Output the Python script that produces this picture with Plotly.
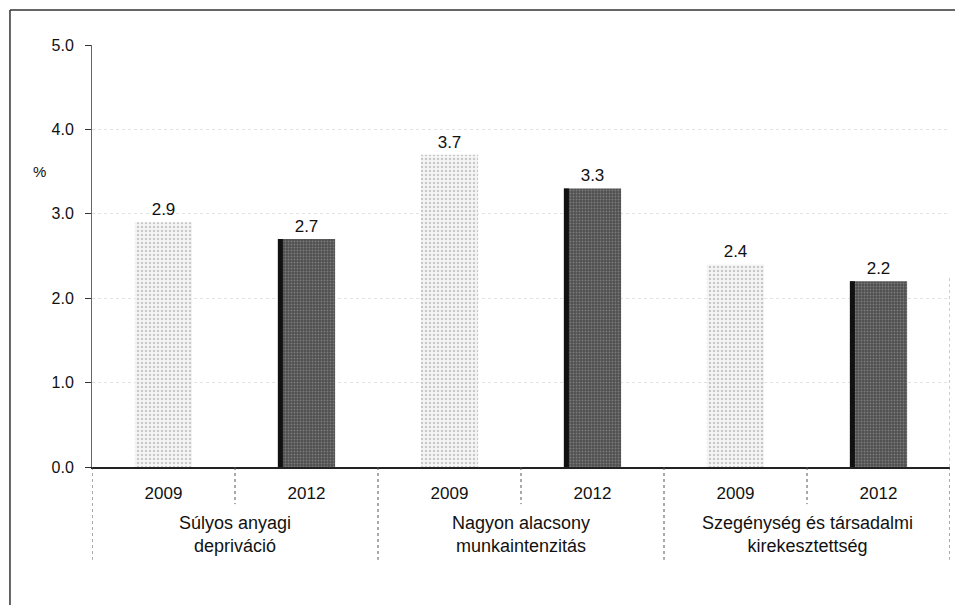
import plotly.graph_objects as go

groups = ["Súlyos anyagi<br>depriváció",
          "Nagyon alacsony<br>munkaintenzitás",
          "Szegénység és társadalmi<br>kirekesztettség"]
years = ["2009", "2012"]
values_2009 = [2.9, 3.7, 2.4]
values_2012 = [2.7, 3.3, 2.2]
y_ticks = [0, 1, 2, 3, 4, 5]

FONT = "Liberation Sans, Arial, sans-serif"
n_years = len(years)
x_2009 = [g * n_years + 0 for g in range(len(groups))]
x_2012 = [g * n_years + 1 for g in range(len(groups))]
tickvals = list(range(len(groups) * n_years))
ticktext = [years[i % n_years] for i in tickvals]
BAR_W = 0.4

fig = go.Figure()
fig.add_trace(go.Bar(
    x=x_2009, y=values_2009, width=BAR_W, name="2009",
    marker=dict(color="#f3f3f3", line=dict(width=0),
                pattern=dict(shape=".", bgcolor="#f5f5f5", fgcolor="#9a9a9a",
                             size=4, solidity=0.3)),
    texttemplate="%{y:.1f}", textposition="outside",
    textfont=dict(size=17, color="#111", family=FONT), cliponaxis=False,
))
fig.add_trace(go.Bar(
    x=x_2012, y=values_2012, width=BAR_W, name="2012",
    marker=dict(color="#5e5e5e", line=dict(width=0),
                pattern=dict(shape=".", bgcolor="#505050", fgcolor="#a8a8a8",
                             size=3, solidity=0.3)),
    texttemplate="%{y:.1f}", textposition="outside",
    textfont=dict(size=17, color="#111", family=FONT), cliponaxis=False,
))
# dark left edge of the 2012 bars
fig.add_trace(go.Bar(
    x=x_2012, y=values_2012, width=0.035, offset=-BAR_W / 2, name="edge",
    marker=dict(color="#111111", line=dict(width=0)), hoverinfo="skip",
))

shapes = []
for i in range(len(tickvals) + 1):
    xpos = i - 0.5
    long_div = (i % n_years == 0)
    shapes.append(dict(type="line", xref="x", yref="paper",
                       x0=xpos, x1=xpos, y0=0, y1=-0.22 if long_div else -0.088,
                       line=dict(color="#555", width=1, dash="dot")))
shapes.append(dict(type="line", xref="x", yref="paper",
                   x0=len(tickvals) - 0.5, x1=len(tickvals) - 0.5, y0=0, y1=0.45,
                   line=dict(color="#999", width=1, dash="dot")))
shapes.append(dict(type="line", xref="paper", yref="paper",
                   x0=-0.0956, x1=1.0058, y0=1.083, y1=1.083,
                   line=dict(color="#333", width=1.5)))
shapes.append(dict(type="line", xref="paper", yref="paper",
                   x0=-0.0956, x1=-0.0956, y0=1.083, y1=-0.35,
                   line=dict(color="#333", width=1.5)))

annotations = []
for g, name in enumerate(groups):
    annotations.append(dict(x=g * n_years + (n_years - 1) / 2, xref="x",
                            y=-0.16, yref="paper", text=name, showarrow=False,
                            font=dict(size=18, color="#111", family=FONT),
                            xanchor="center", yanchor="middle"))
annotations.append(dict(x=-0.0715, xref="paper", y=3.5, yref="y", text="%",
                        showarrow=False, font=dict(size=15, color="#111", family=FONT)))

fig.update_layout(
    width=965, height=605,
    margin=dict(l=84, r=23, t=37, b=146),
    paper_bgcolor="white", plot_bgcolor="white",
    showlegend=False, barmode="overlay",
    font=dict(family=FONT, size=16, color="#111"),
    shapes=shapes, annotations=annotations,
)
fig.update_xaxes(range=[-0.5, len(tickvals) - 0.5], tickvals=tickvals, ticktext=ticktext,
                 showline=True, linecolor="#222", linewidth=1.5, ticks="",
                 showgrid=False, zeroline=False, ticklabelstandoff=10,
                 tickfont=dict(size=17, color="#111", family=FONT))
fig.update_yaxes(range=[0, 5], tickvals=y_ticks, tickformat=".1f",
                 showline=True, linecolor="#666", linewidth=1,
                 ticks="outside", ticklen=6, tickcolor="#333",
                 showgrid=True, gridcolor="#e2e2e2", griddash="dot", gridwidth=1,
                 zeroline=False, ticklabelstandoff=8,
                 tickfont=dict(size=16, color="#111", family=FONT))

fig.write_html("out.html")
